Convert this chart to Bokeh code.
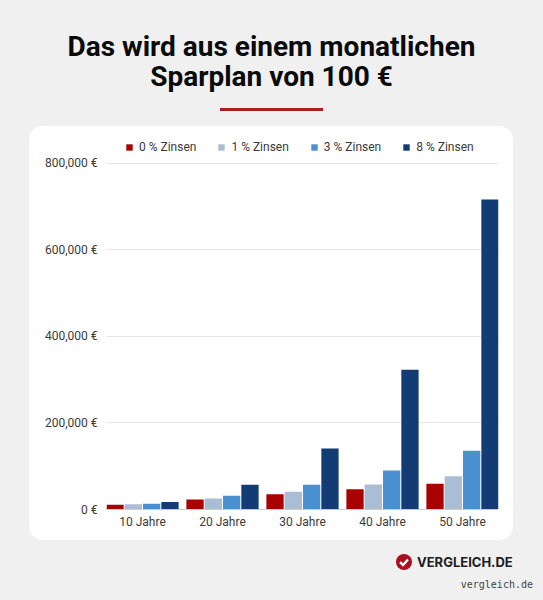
from bokeh.embed import file_html
from bokeh.resources import INLINE
from bokeh.layouts import column
from bokeh.plotting import figure
from bokeh.models import (ColumnDataSource, Div, FactorRange, FixedTicker, Legend, LegendItem, Range1d)
from bokeh.transform import dodge

title_lines = ["Das wird aus einem monatlichen", "Sparplan von 100 €"]
categories = ["10 Jahre", "20 Jahre", "30 Jahre", "40 Jahre", "50 Jahre"]
zero_pct = [11000, 23000, 35000, 47000, 59500]
one_pct = [12000, 25500, 41000, 58000, 77000]
three_pct = [13500, 32000, 57000, 90000, 136000]
eight_pct = [17500, 57000, 141000, 323000, 717000]
series_names = ["0 % Zinsen", "1 % Zinsen", "3 % Zinsen", "8 % Zinsen"]
series_colors = ["#a90000", "#a9bdd4", "#4a90d0", "#123c73"]
tick_values = [0, 200000, 400000, 600000, 800000]
tick_labels = ["0 €", "200,000 €", "400,000 €", "600,000 €", "800,000 €"]
BG = "#f0f0f0"

header = Div(width=543, height=126, margin=0, text=f"""
<div style="position:absolute;left:0;top:0;width:543px;height:126px">
<div style="position:absolute;left:0;width:543px;top:32px;text-align:center;font:700 28px/30px Roboto;color:#0a0a0a;white-space:nowrap">{title_lines[0]}<br>{title_lines[1]}</div>
<div style="position:absolute;left:220px;top:108px;width:103px;height:3px;background:#a91e1e"></div>
</div>""")

footer = Div(width=543, height=60, margin=0, text="""
<div style="position:absolute;left:0;top:0;width:543px;height:60px">
<svg style="position:absolute;left:395px;top:13px" width="18" height="18" viewBox="0 0 18 18">
<circle cx="9" cy="9" r="8" fill="#a90f1e"/><path d="M5 9.2 L8 12 L13 6.5" fill="none" stroke="white" stroke-width="2.4"/></svg>
<div style="position:absolute;left:417px;top:13px;font:700 13px/18px Inter;color:#1c1c22;white-space:nowrap">VERGLEICH.DE</div>
<div style="position:absolute;right:10px;top:39px;font:10px/12px 'DejaVu Sans Mono';color:#444444;white-space:nowrap">vergleich.de</div>
</div>""")

p = figure(width=484, height=414, output_backend="svg", toolbar_location=None,
           x_range=FactorRange(factors=categories, range_padding=-0.02),
           y_range=Range1d(0, 876300),
           min_border_left=77, min_border_right=15, min_border_top=4, min_border_bottom=31,
           background_fill_alpha=0, border_fill_alpha=0, outline_line_color=None,
           margin=(0, 0, 0, 29),
           styles={"background": "white", "border-radius": "14px"})

src = ColumnDataSource(dict(cat=categories, s0=zero_pct, s1=one_pct, s2=three_pct, s3=eight_pct))
items = []
for i, name in enumerate(series_names):
    r = p.vbar(x=dodge("cat", (i - 1.5) * 0.229, range=p.x_range), top=f"s{i}", width=0.216,
               bottom=0, source=src, color=series_colors[i], line_color=None)
    items.append(LegendItem(label=name, renderers=[r]))

legend = Legend(items=items, orientation="horizontal", location=(19, 355), background_fill_alpha=0,
                border_line_color=None, glyph_width=8, glyph_height=8, label_standoff=6,
                spacing=21, padding=0, margin=0, label_text_font="Roboto",
                label_text_font_size="12px", label_text_color="#3a3a3a")
p.add_layout(legend, "center")

p.yaxis.ticker = FixedTicker(ticks=tick_values)
p.yaxis.major_label_overrides = dict(zip(tick_values, tick_labels))
p.yaxis.major_label_text_font = "Roboto"
p.yaxis.major_label_text_font_size = "12px"
p.yaxis.major_label_text_color = "#3a3a3a"
p.yaxis.axis_line_color = None
p.yaxis.major_tick_line_color = None
p.yaxis.minor_tick_line_color = None
p.yaxis.major_tick_out = 0
p.yaxis.major_label_standoff = 9
p.xaxis.major_label_text_font = "Roboto"
p.xaxis.major_label_text_font_size = "12px"
p.xaxis.major_label_text_color = "#3a3a3a"
p.xaxis.axis_line_color = "#cccccc"
p.xaxis.major_tick_line_color = None
p.xaxis.major_tick_out = 0
p.xaxis.major_label_standoff = 5
p.xgrid.grid_line_color = None
p.ygrid.grid_line_color = "#e6e6e6"

layout = column(header, p, footer, spacing=0, margin=0)
html = file_html(layout, INLINE)
html = html.replace("<head>", f"<head><style>html,body{{background:{BG}}}</style>", 1)
open("out.html", "w").write(html)
